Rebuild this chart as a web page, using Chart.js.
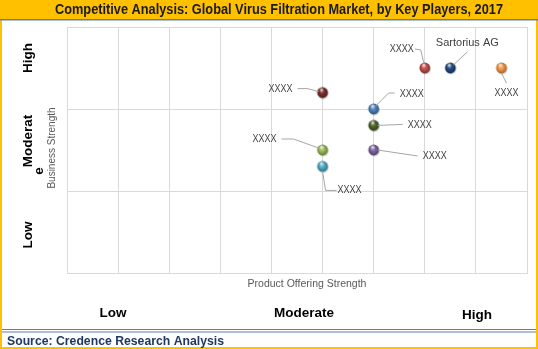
<!DOCTYPE html>
<html>
<head>
<meta charset="utf-8">
<script src="https://cdn.jsdelivr.net/npm/chart.js@4.4.1/dist/chart.umd.min.js"></script>
<style>
  html, body { margin: 0; padding: 0; background: #ffffff; }
  canvas { display: block; }
</style>
</head>
<body>
<canvas id="c" width="538" height="349"></canvas>
<script>
// ---- data ----
const titleText = 'Competitive Analysis: Global Virus Filtration Market, by Key Players, 2017';
const sourceText = 'Source: Credence Research Analysis';
const companies = ['XXXX', 'Sartorius AG', 'XXXX', 'XXXX', 'XXXX', 'XXXX', 'XXXX', 'XXXX', 'XXXX'];
const productStrength = [7, 7.5, 8.5, 5, 6, 6, 6, 5, 5];
const businessStrength = [2.5, 2.5, 2.5, 2.2, 2.0, 1.8, 1.5, 1.5, 1.3];
const xLevelLabels = ['Low', 'Moderate', 'High'];
const yLevelLabels = ['Low', 'Moderate', 'High'];
const xAxisTitle = 'Product Offering Strength';
const yAxisTitle = 'Business Strength';

// ---- styles ----
const pointColors = ['#C0504D', '#1F497D', '#F79646', '#772C2A', '#4F81BD', '#4F6228', '#8064A2', '#9BBB59', '#4BACC6'];
// label center offset and leader polyline (pixels relative to the point)
const labelOffsets = [[-23, -19], [17, -25], [5, 25], [-42, -4], [38, -15], [46, 0], [61, 6], [-58, -11], [27, 24]];
const leaderPaths = [
  [[-10, -19], [-4, -18], [-1, -5]],
  [[3, -3], [17, -16]],
  [[0, 5], [5, 15]],
  [[-25, -4], [-15, -4], [-4, -1]],
  [[21, -16], [15, -16], [2, -3]],
  [[4, 0], [29, -1]],
  [[4, 0], [44, 6]],
  [[-41, -11], [-29, -11], [-4, -2]],
  [[0, 5], [3, 24], [14, 24]]
];

function shade(hex, amt) {
  const n = parseInt(hex.slice(1), 16);
  let r = (n >> 16) & 255, g = (n >> 8) & 255, b = n & 255;
  if (amt >= 0) { r += (255 - r) * amt; g += (255 - g) * amt; b += (255 - b) * amt; }
  else { r *= (1 + amt); g *= (1 + amt); b *= (1 + amt); }
  return 'rgb(' + Math.round(r) + ',' + Math.round(g) + ',' + Math.round(b) + ')';
}
function sphere(color) {
  const c = document.createElement('canvas');
  c.width = 14; c.height = 14;
  const g = c.getContext('2d');
  const cx = 7, cy = 7, r = 5.4;
  g.fillStyle = 'rgba(0,0,0,0.18)';
  g.beginPath(); g.arc(cx + 0.7, cy + 1.1, r, 0, Math.PI * 2); g.fill();
  const grad = g.createRadialGradient(cx - 1.2, cy - 2.2, 0.3, cx, cy, r);
  grad.addColorStop(0, shade(color, 0.45));
  grad.addColorStop(0.45, color);
  grad.addColorStop(1, shade(color, -0.35));
  g.fillStyle = grad;
  g.beginPath(); g.arc(cx, cy, r, 0, Math.PI * 2); g.fill();
  const hl = g.createRadialGradient(cx - 1, cy - 3, 0, cx - 1, cy - 3, 2.5);
  hl.addColorStop(0, 'rgba(255,255,255,0.8)');
  hl.addColorStop(1, 'rgba(255,255,255,0)');
  g.fillStyle = hl;
  g.beginPath(); g.arc(cx, cy, r, 0, Math.PI * 2); g.fill();
  return c;
}

const frame = {
  id: 'frame',
  beforeDraw(chart) {
    const ctx = chart.ctx, W = chart.width, H = chart.height;
    ctx.save();
    ctx.fillStyle = '#ffffff'; ctx.fillRect(0, 0, W, H);
    ctx.fillStyle = '#FFC000';
    ctx.fillRect(0, 0, W, 19);
    ctx.fillRect(0, 0, 2, H);
    ctx.fillRect(W - 2, 0, 2, H);
    ctx.fillRect(0, H - 2, W, 2);
    ctx.fillStyle = '#4F81BD';
    ctx.fillRect(0, 19, W, 1.5);
    ctx.fillStyle = '#5A7FB8';
    ctx.fillRect(2, 329, W - 4, 1);
    ctx.fillRect(2, 331.5, W - 4, 1);
    ctx.restore();
  },
  afterDraw(chart) {
    const ctx = chart.ctx;
    ctx.save();
    ctx.textAlign = 'center'; ctx.textBaseline = 'middle';
    ctx.fillStyle = '#1a1a1a';
    ctx.font = 'bold 14px "Liberation Sans", Arial, sans-serif';
    ctx.fillText(titleText, 279, 10, 448);
    // bottom level labels
    ctx.fillStyle = '#000000';
    ctx.font = 'bold 13.5px "Liberation Sans", Arial, sans-serif';
    ctx.fillText(xLevelLabels[0], 113, 313);
    ctx.fillText(xLevelLabels[1], 304, 313);
    ctx.fillText(xLevelLabels[2], 477, 315);
    // axis title
    ctx.fillStyle = '#595959';
    ctx.font = '10.5px "Liberation Sans", Arial, sans-serif';
    ctx.fillText(xAxisTitle, 307, 284, 125);
    // source
    ctx.textAlign = 'left';
    ctx.fillStyle = '#1F3864';
    ctx.font = 'bold 12.5px "Liberation Sans", Arial, sans-serif';
    ctx.fillText(sourceText, 7, 342, 217);
    // left rotated labels
    const rot = (txt, x, y, font, color, maxW) => {
      ctx.save();
      ctx.translate(x, y); ctx.rotate(-Math.PI / 2);
      ctx.textAlign = 'center'; ctx.font = font; ctx.fillStyle = color;
      if (maxW) ctx.fillText(txt, 0, 0, maxW); else ctx.fillText(txt, 0, 0);
      ctx.restore();
    };
    const bf = 'bold 13.5px "Liberation Sans", Arial, sans-serif';
    rot(yLevelLabels[2], 28, 58, bf, '#000');
    rot(yLevelLabels[1].slice(0, -1), 28, 141, bf, '#000', 54);
    rot(yLevelLabels[1].slice(-1), 39, 171, bf, '#000');
    rot(yLevelLabels[0], 28, 235, bf, '#000');
    rot(yAxisTitle, 52, 148, '10px "Liberation Sans", Arial, sans-serif', '#595959', 86);
    ctx.restore();
  },
  afterDatasetsDraw(chart) {
    const ctx = chart.ctx;
    const meta = chart.getDatasetMeta(0);
    ctx.save();
    ctx.strokeStyle = '#A6A6A6'; ctx.lineWidth = 1;
    ctx.font = '11px "Liberation Sans", Arial, sans-serif';
    ctx.fillStyle = '#404040';
    ctx.textAlign = 'center'; ctx.textBaseline = 'middle';
    meta.data.forEach((pt, i) => {
      const px = pt.x, py = pt.y;
      const path = leaderPaths[i];
      ctx.beginPath();
      path.forEach((p, k) => {
        if (k === 0) ctx.moveTo(px + p[0], py + p[1]); else ctx.lineTo(px + p[0], py + p[1]);
      });
      ctx.stroke();
      const txt = companies[i];
      const w = ctx.measureText(txt).width;
      ctx.fillText(txt, px + labelOffsets[i][0], py + labelOffsets[i][1], Math.min(w, txt.length * 6.0));
    });
    ctx.restore();
  }
};

new Chart(document.getElementById('c'), {
  type: 'scatter',
  data: {
    datasets: [{
      data: productStrength.map((x, i) => ({ x: x, y: businessStrength[i] })),
      pointStyle: pointColors.map(sphere),
      pointRadius: 5,
      pointHoverRadius: 5
    }]
  },
  options: {
    responsive: false,
    animation: false,
    events: [],
    layout: { padding: { left: 67, top: 27, right: 11, bottom: 76 } },
    plugins: { legend: { display: false }, tooltip: { enabled: false }, title: { display: false } },
    scales: {
      x: {
        type: 'linear', min: 0, max: 9,
        ticks: { display: false, stepSize: 1 },
        grid: { color: '#D9D9D9', drawTicks: false },
        border: { color: '#D9D9D9' }
      },
      y: {
        type: 'linear', min: 0, max: 3,
        ticks: { display: false, stepSize: 1 },
        grid: { color: '#D9D9D9', drawTicks: false },
        border: { color: '#D9D9D9' }
      }
    }
  },
  plugins: [frame]
});
</script>
</body>
</html>
